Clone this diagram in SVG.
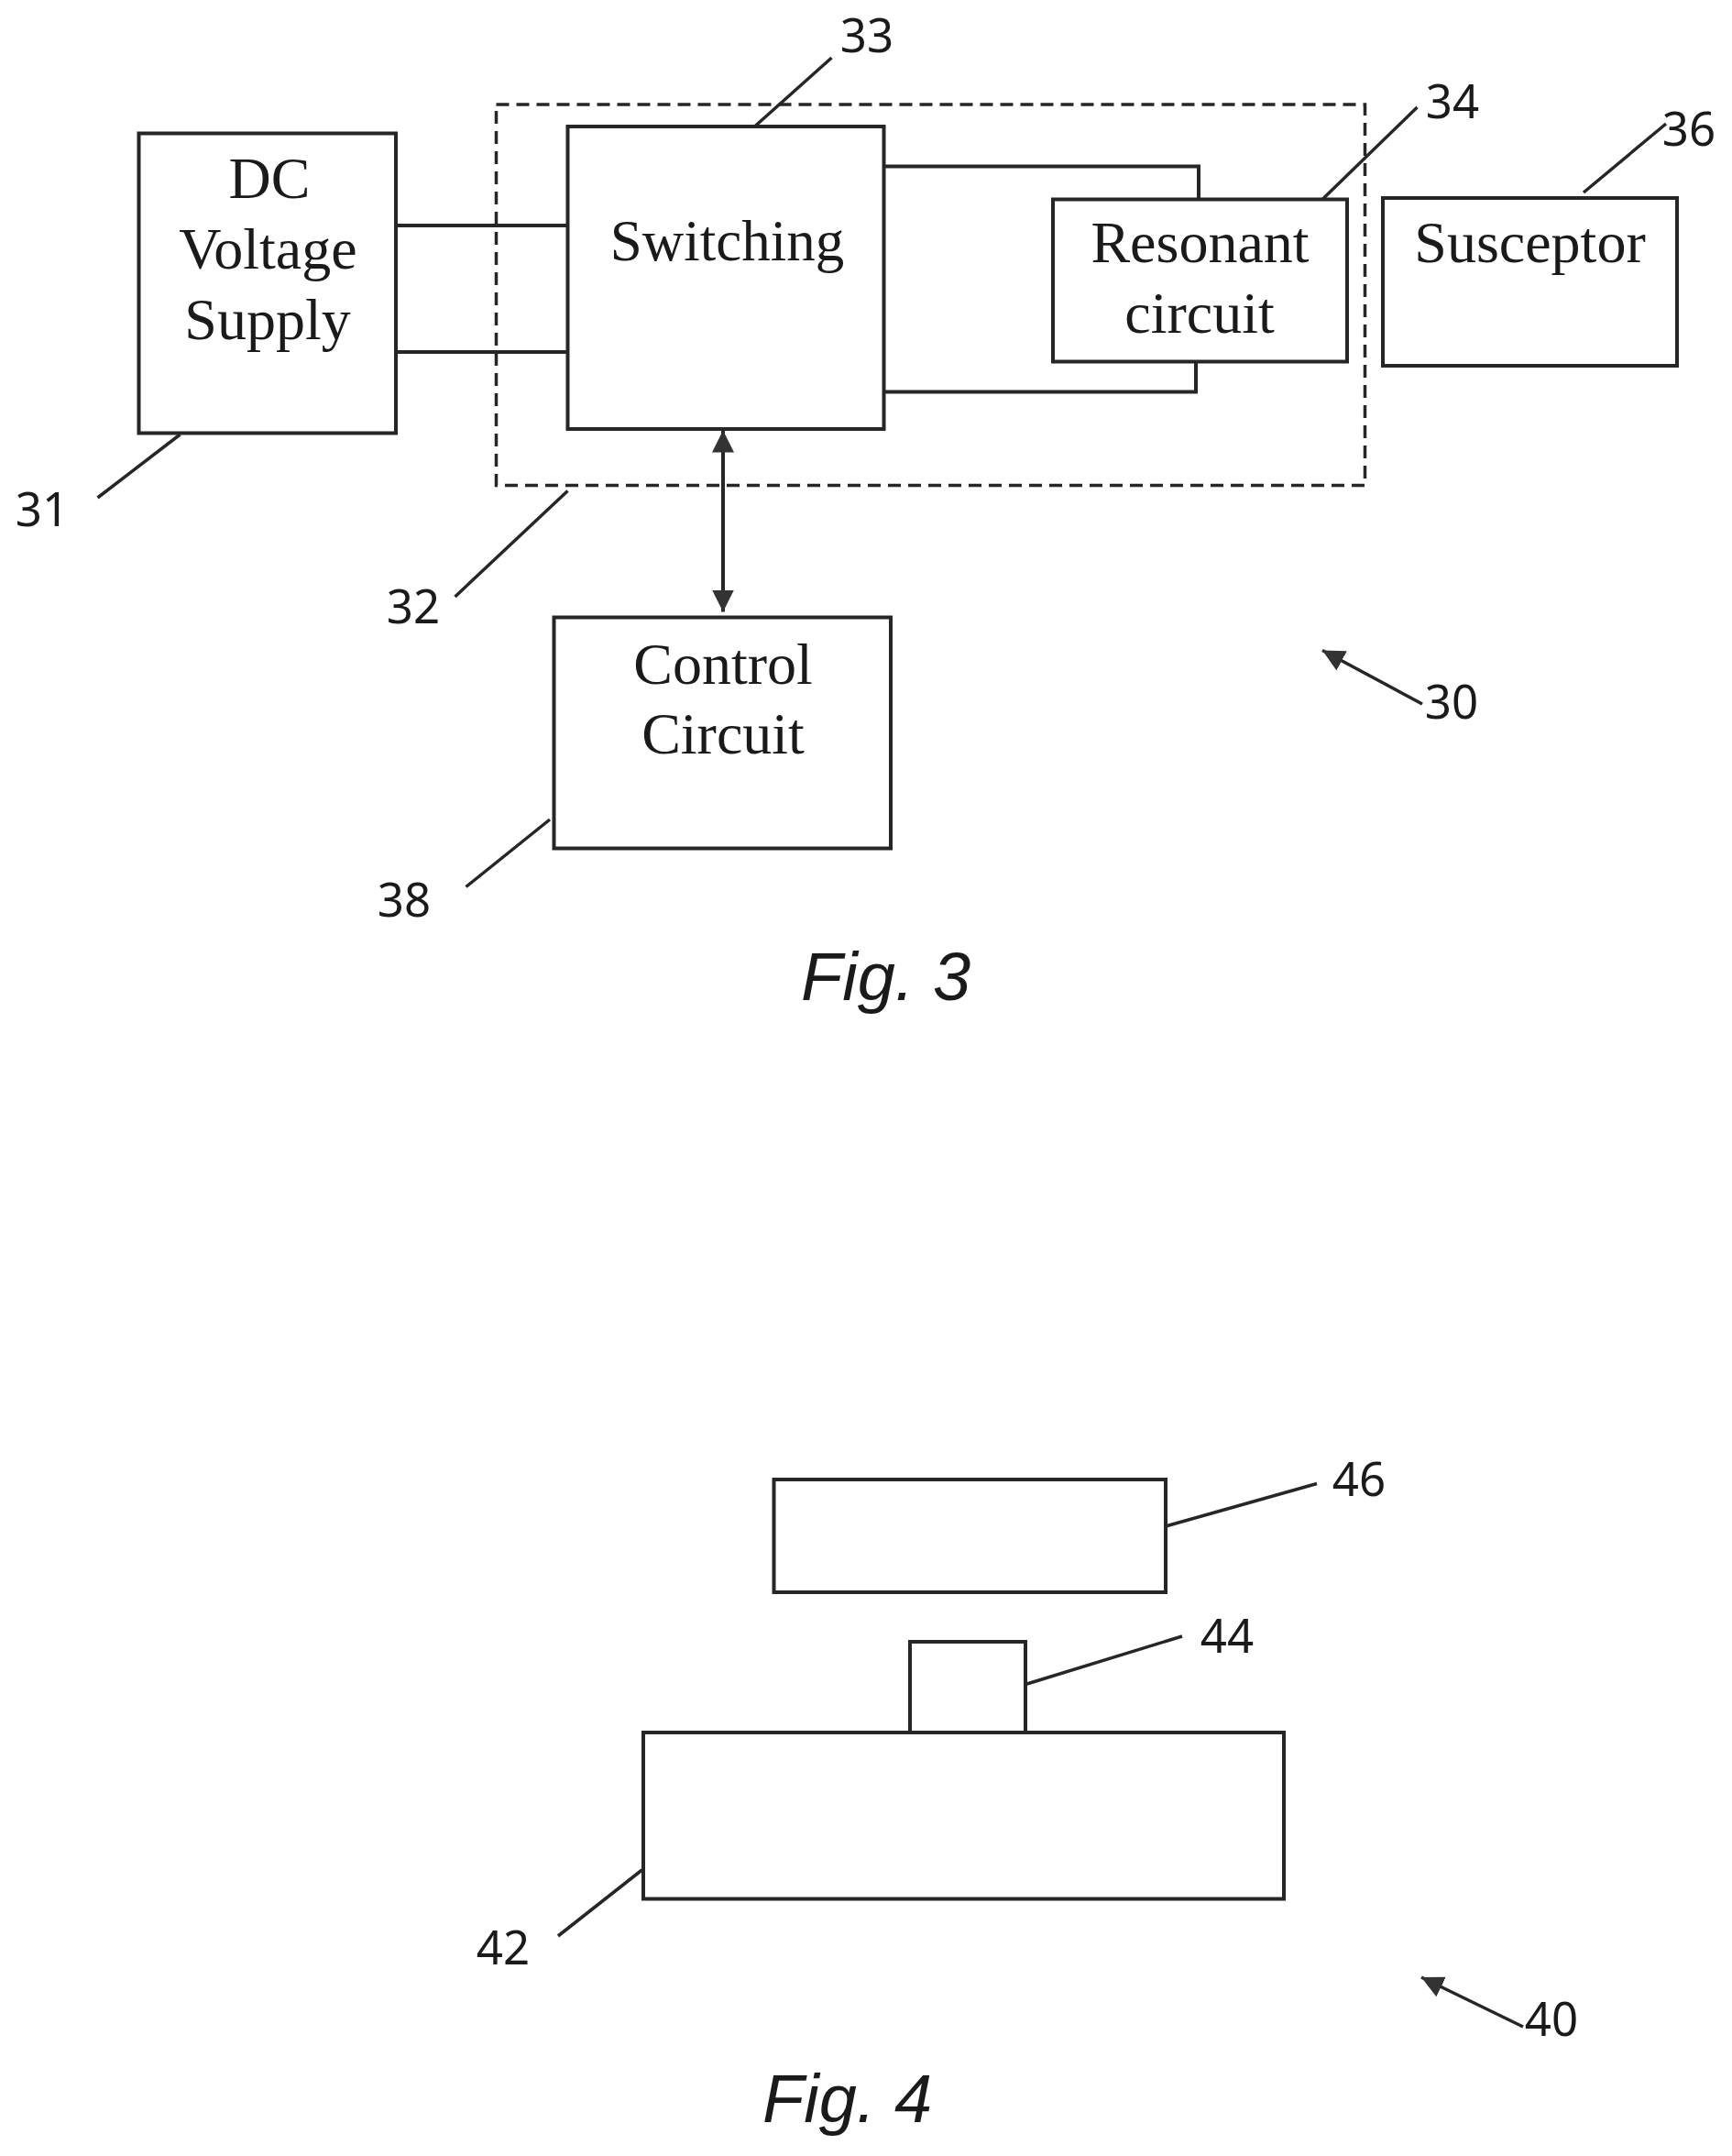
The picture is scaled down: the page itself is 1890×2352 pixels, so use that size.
<svg xmlns="http://www.w3.org/2000/svg" width="1890" height="2352" viewBox="0 0 1890 2352">
<style>
.b{fill:#fff;stroke:#262626;stroke-width:4}
.c{fill:none;stroke:#262626;stroke-width:4}
.l{fill:none;stroke:#262626;stroke-width:3.5}
.d{fill:none;stroke:#262626;stroke-width:3.5;stroke-dasharray:14 8}
.t{font-family:"Liberation Serif",serif;font-size:64px;fill:#1a1a1a;text-anchor:middle}
.n{font-family:"Noto Sans",sans-serif;font-size:51px;fill:#1a1a1a;text-anchor:middle}
.f{font-family:"Liberation Sans",sans-serif;font-style:italic;font-size:74px;fill:#1a1a1a}
</style>
<defs>
<marker id="a" markerUnits="userSpaceOnUse" markerWidth="28" markerHeight="28" refX="24" refY="12" orient="auto-start-reverse" viewBox="0 0 28 24"><path d="M0 0L24 12L0 24Z" fill="#333"/></marker>
</defs>
<rect width="1890" height="2352" fill="#fff"/>
<g id="connectors">
<path class="c" d="M432 246H619.5M432 384H619.5M964.5 181.5H1308V217.5M964.5 427.5H1305V394.5"/>
<path class="c" d="M789 469.5V667.5" marker-start="url(#a)" marker-end="url(#a)"/>
<path class="l" d="M196.5 474L106.5 543M823.5 138L907.5 63M619.5 535.5L496.5 651M1443 217.5L1546.5 117M1728 210L1818 135M600 894L508.5 967.5"/>
<path class="l" d="M1552 768L1443 709.5" marker-end="url(#a)"/>
<path class="l" d="M1272 1665L1437 1618.5M1119 1837.5L1290 1785M700.5 2040L609 2112"/>
<path class="l" d="M1662 2211L1551 2157" marker-end="url(#a)"/>
</g>
<g id="n32"><rect class="d" x="541.5" y="114" width="948" height="415.5"/><text class="n" x="451" y="680">32</text></g>
<g id="n31"><rect class="b" x="151.5" y="145.5" width="280.5" height="327"/><text class="t" x="294" y="216">DC</text><text class="t" x="292.5" y="293">Voltage</text><text class="t" x="292" y="370">Supply</text><text class="n" x="46" y="574">31</text></g>
<g id="n33"><rect class="b" x="619.5" y="138" width="345" height="330"/><text class="t" x="793.5" y="284" style="font-size:63px">Switching</text><text class="n" x="946" y="57">33</text></g>
<g id="n34"><rect class="b" x="1149" y="217.5" width="321" height="177"/><text class="t" x="1309.5" y="286">Resonant</text><text class="t" x="1309" y="363">circuit</text><text class="n" x="1585" y="129">34</text></g>
<g id="n36"><rect class="b" x="1509" y="216" width="321" height="183"/><text class="t" x="1669.5" y="286">Susceptor</text><text class="n" x="1843" y="159">36</text></g>
<g id="n38"><rect class="b" x="604.5" y="673.5" width="367.5" height="252"/><text class="t" x="789" y="746">Control</text><text class="t" x="789" y="822">Circuit</text><text class="n" x="441" y="1000">38</text></g>
<g id="n30"><text class="n" x="1584" y="784">30</text></g>
<g id="fig3"><text class="f" x="874" y="1091">Fig. 3</text></g>
<g id="n46"><rect class="b" x="844.5" y="1614" width="427.5" height="123"/><text class="n" x="1483" y="1632">46</text></g>
<g id="n44"><rect class="b" x="993" y="1791" width="126" height="99"/><text class="n" x="1339" y="1803">44</text></g>
<g id="n42"><rect class="b" x="702" y="1890" width="699" height="181.5"/><text class="n" x="549" y="2143">42</text></g>
<g id="n40"><text class="n" x="1693" y="2221">40</text></g>
<g id="fig4"><text class="f" x="832" y="2315">Fig. 4</text></g>
</svg>
